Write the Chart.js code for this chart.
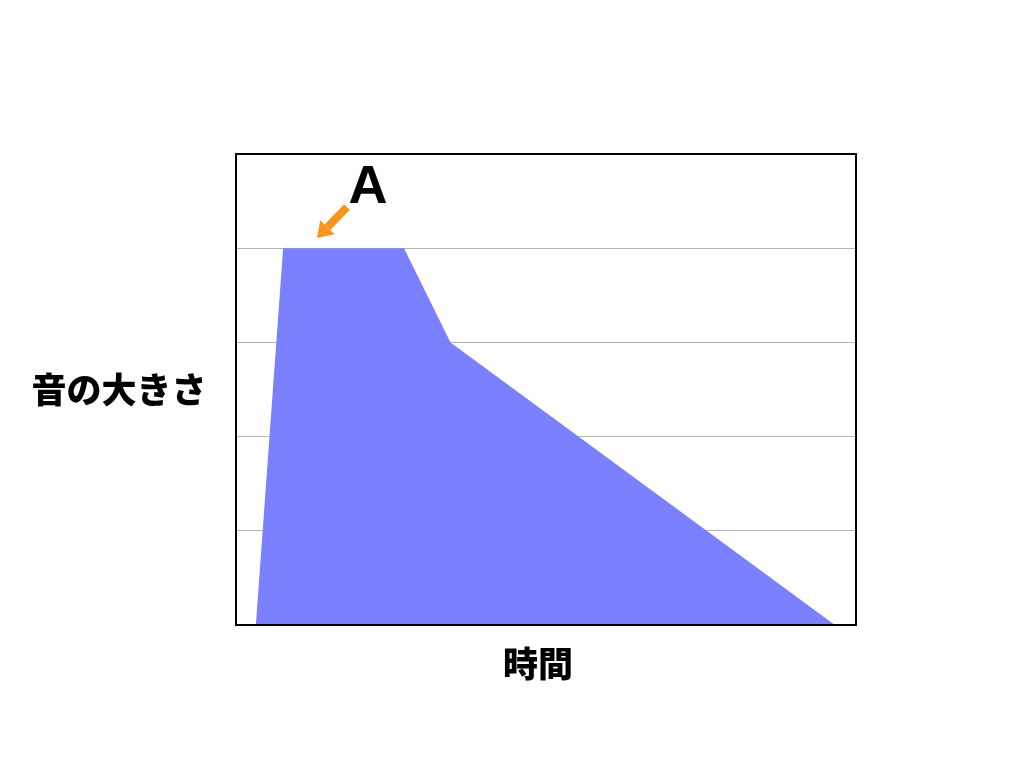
<!DOCTYPE html>
<html>
<head>
<meta charset="utf-8">
<script src="https://cdn.jsdelivr.net/npm/chart.js@4"></script>
<style>
    html, body { margin: 0; padding: 0; background: #fff; }
    #wrap { width: 1024px; height: 768px; position: relative; }
</style>
</head>
<body>
<div id="wrap"><canvas id="envChart" width="1024" height="768"></canvas></div>
<script>
// envelope of the sound (time -> loudness)
const timePoints = [3.2, 7.6, 27.1, 34.6, 96.6];
const loudness = [0, 4, 4, 3, 0];
const yLabel = '音の大きさ';
const xLabel = '時間';
const markText = 'A';

const jpFont = '"Noto Sans CJK JP", "Noto Sans", sans-serif';

// frame, axis labels and the "A" arrow
const decorPlugin = {
    id: 'decor',
    afterDraw(chart) {
        const ctx = chart.ctx;
        const a = chart.chartArea;
        ctx.save();

        ctx.strokeStyle = '#000';
        ctx.lineWidth = 2;
        ctx.strokeRect(a.left, a.top, a.right - a.left, a.bottom - a.top);

        ctx.fillStyle = '#000';
        ctx.textAlign = 'center';
        ctx.textBaseline = 'middle';
        ctx.font = '900 35px ' + jpFont;
        ctx.fillText(yLabel, 119, 390);
        ctx.fillText(xLabel, 538, 664);

        ctx.font = 'bold 54px "Liberation Sans", Arial, sans-serif';
        ctx.fillText(markText, 368, 188);

        // orange arrow pointing at the peak
        const x0 = 347, y0 = 207, x1 = 317, y1 = 238;
        const ang = Math.atan2(y1 - y0, x1 - x0);
        const head = 15;
        const hx = x1 - head * Math.cos(ang), hy = y1 - head * Math.sin(ang);
        ctx.strokeStyle = '#f7941d';
        ctx.lineWidth = 8;
        ctx.beginPath();
        ctx.moveTo(x0, y0);
        ctx.lineTo(hx, hy);
        ctx.stroke();
        ctx.fillStyle = '#f7941d';
        ctx.beginPath();
        ctx.moveTo(x1, y1);
        ctx.lineTo(hx + 10 * Math.sin(ang), hy - 10 * Math.cos(ang));
        ctx.lineTo(hx - 10 * Math.sin(ang), hy + 10 * Math.cos(ang));
        ctx.closePath();
        ctx.fill();

        ctx.restore();
    }
};

const ctx = document.getElementById('envChart').getContext('2d');
new Chart(ctx, {
    type: 'line',
    data: {
        datasets: [{
            data: timePoints.map((t, i) => ({ x: t, y: loudness[i] })),
            borderWidth: 0,
            borderColor: 'rgba(0,0,0,0)',
            backgroundColor: '#7b80ff',
            fill: 'origin',
            pointRadius: 0,
            tension: 0
        }]
    },
    options: {
        responsive: false,
        animation: false,
        layout: {
            padding: { left: 236, right: 168, top: 154, bottom: 135 }
        },
        plugins: {
            legend: { display: false },
            tooltip: { enabled: false }
        },
        scales: {
            x: {
                type: 'linear',
                min: 0,
                max: 100,
                ticks: { display: false },
                grid: { display: false },
                border: { display: false }
            },
            y: {
                min: 0,
                max: 5,
                ticks: { display: false, stepSize: 1 },
                grid: {
                    color: (c) => (c.tick.value === 0 || c.tick.value === 5) ? 'rgba(0,0,0,0)' : '#b4b4b4',
                    lineWidth: 1,
                    drawTicks: false
                },
                border: { display: false }
            }
        }
    },
    plugins: [decorPlugin]
});
</script>
</body>
</html>
